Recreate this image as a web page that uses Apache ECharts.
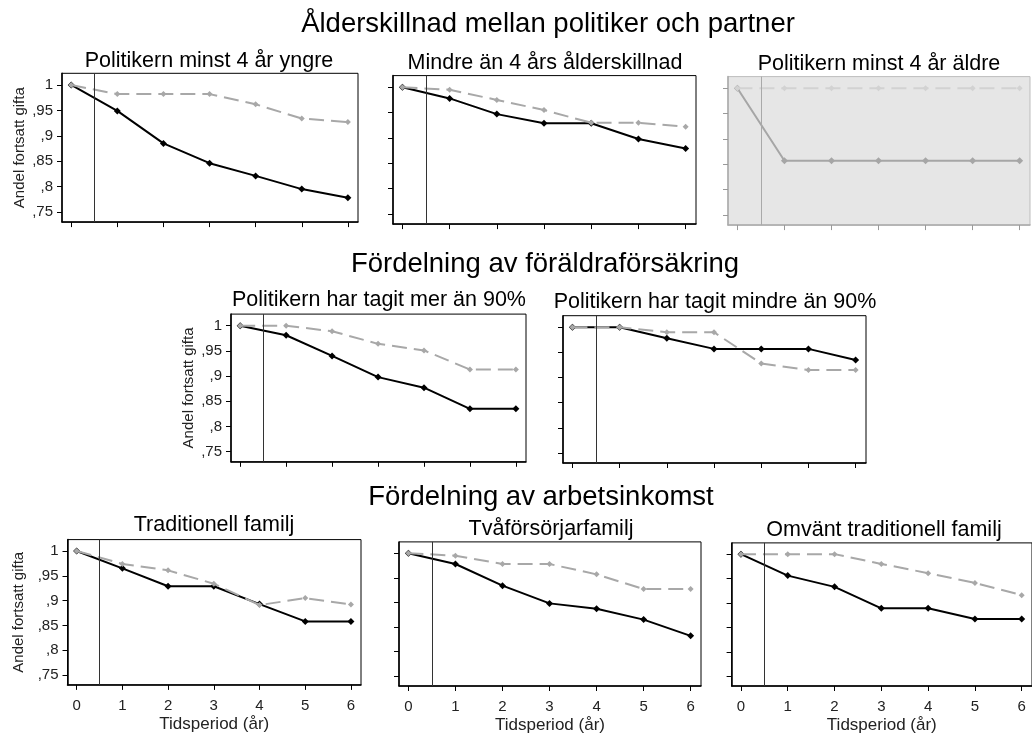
<!DOCTYPE html>
<html>
<head>
<meta charset="utf-8">
<script src="https://cdn.jsdelivr.net/npm/echarts@6/dist/echarts.min.js"></script>
<style>html,body{margin:0;padding:0;background:#fff}#c{width:1032px;height:735px}</style>
</head>
<body>
<div id="c"></div>
<script>
// ---- data ----
const years = [0, 1, 2, 3, 4, 5, 6];
const xTickLabels = ['0', '1', '2', '3', '4', '5', '6'];
const yTickValues = [0.75, 0.8, 0.85, 0.9, 0.95, 1];
const yTickLabels = [',75', ',8', ',85', ',9', ',95', '1'];
const cutoff = 0.5;

const sectionTitles = [
  'Ålderskillnad mellan politiker och partner',
  'Fördelning av föräldraförsäkring',
  'Fördelning av arbetsinkomst'
];
const panelTitles = [
  'Politikern minst 4 år yngre',
  'Mindre än 4 års ålderskillnad',
  'Politikern minst 4 år äldre',
  'Politikern har tagit mer än 90%',
  'Politikern har tagit mindre än 90%',
  'Traditionell familj',
  'Tvåförsörjarfamilj',
  'Omvänt traditionell familj'
];
const yAxisName = 'Andel fortsatt gifta';
const xAxisName = 'Tidsperiod (år)';

// black (solid) and grey (dashed) series per panel
const yngreSolid   = [1.000, 0.949, 0.885, 0.846, 0.821, 0.795, 0.778];
const yngreDashed  = [1.000, 0.982, 0.982, 0.982, 0.962, 0.934, 0.927];
const mindreSolid  = [1.000, 0.978, 0.947, 0.929, 0.929, 0.898, 0.879];
const mindreDashed = [1.000, 0.995, 0.975, 0.955, 0.930, 0.930, 0.922];
const aldreSolid   = [1.000, 0.857, 0.857, 0.857, 0.857, 0.857, 0.857];
const aldreDashed  = [1.000, 1.000, 1.000, 1.000, 1.000, 1.000, 1.000];
const merSolid     = [1.000, 0.981, 0.940, 0.898, 0.877, 0.835, 0.835];
const merDashed    = [1.000, 1.000, 0.989, 0.964, 0.951, 0.913, 0.913];
const mindre90Solid  = [1.000, 1.000, 0.978, 0.957, 0.957, 0.957, 0.935];
const mindre90Dashed = [1.000, 1.000, 0.990, 0.990, 0.928, 0.915, 0.915];
const tradSolid    = [1.000, 0.965, 0.929, 0.929, 0.893, 0.858, 0.858];
const tradDashed   = [1.000, 0.974, 0.961, 0.934, 0.891, 0.905, 0.892];
const tvaSolid     = [1.000, 0.978, 0.934, 0.898, 0.887, 0.865, 0.832];
const tvaDashed    = [1.000, 0.995, 0.978, 0.978, 0.957, 0.927, 0.927];
const omvSolid     = [1.000, 0.956, 0.933, 0.889, 0.889, 0.867, 0.867];
const omvDashed    = [1.000, 1.000, 1.000, 0.980, 0.961, 0.941, 0.916];

const panelSolid  = [yngreSolid, mindreSolid, aldreSolid, merSolid, mindre90Solid, tradSolid, tvaSolid, omvSolid];
const panelDashed = [yngreDashed, mindreDashed, aldreDashed, merDashed, mindre90Dashed, tradDashed, tvaDashed, omvDashed];

// ---- layout ----
const grids = [
  {left: 62,  top: 73.3,  width: 296, height: 148.8},
  {left: 393, top: 75.6,  width: 303, height: 148.5},
  {left: 728, top: 76.6,  width: 302, height: 148.5},
  {left: 231, top: 314.1, width: 295, height: 147.7},
  {left: 563, top: 315.7, width: 303, height: 147.3},
  {left: 67.5,top: 539.6, width: 293.5, height: 145.3},
  {left: 399, top: 541.9, width: 302, height: 144.9},
  {left: 731.6,top: 542.9, width: 303, height: 144.9}
];
const showYLabels = [true, false, false, true, false, true, false, false];
const yNameGap = [35, 0, 0, 35, 0, 41, 0, 0];
const showXLabels = [false, false, false, false, false, true, true, true];
const greyed = [false, false, true, false, false, false, false, false];
const titlePos = [
  [209, 50.5], [545, 52.5], [879, 53.5],
  [379, 289], [715, 291],
  [214, 514.5], [551, 518.5], [884, 519]
];
const sectionPos = [[548, 10], [545, 250], [541, 483]];

const FONT = '"Liberation Sans", Arial, sans-serif';
const fmtY = v => {
  const i = yTickValues.findIndex(t => Math.abs(t - v) < 1e-6);
  return i >= 0 ? yTickLabels[i] : '';
};

const option = {
  backgroundColor: '#fff',
  animation: false,
  textStyle: {fontFamily: FONT},
  title: [
    ...sectionTitles.map((t, i) => ({
      text: t, left: sectionPos[i][0], top: sectionPos[i][1], textAlign: 'center', padding: 0,
      textStyle: {fontFamily: FONT, fontSize: 27.5, fontWeight: 'normal', color: '#000'}
    })),
    ...panelTitles.map((t, i) => ({
      text: t, left: titlePos[i][0], top: titlePos[i][1], textAlign: 'center', padding: 0,
      textStyle: {fontFamily: FONT, fontSize: 21.5, fontWeight: 'normal', color: '#000'}
    }))
  ],
  grid: grids.map((g, i) => ({
    ...g, show: true, containLabel: false,
    borderColor: greyed[i] ? '#bdbdbd' : '#000', borderWidth: 1,
    backgroundColor: greyed[i] ? '#e6e6e6' : '#fff'
  })),
  xAxis: grids.map((g, i) => ({
    type: 'value', gridIndex: i, min: -0.2, max: 6.22,
    name: showXLabels[i] ? xAxisName : '', nameLocation: 'middle', nameGap: 31,
    nameTextStyle: {fontFamily: FONT, fontSize: 17, color: '#222'},
    axisLine: {show: true, onZero: false, lineStyle: {color: greyed[i] ? '#aaa' : '#000', width: 1.5}},
    axisTick: {show: true, length: 5, customValues: years, lineStyle: {color: greyed[i] ? '#999' : '#000', width: 1}},
    axisLabel: {show: showXLabels[i], customValues: years, formatter: v => xTickLabels[years.indexOf(v)] ?? '',
      fontFamily: FONT, fontSize: 15, color: '#222', margin: 13},
    splitLine: {show: false}
  })),
  yAxis: grids.map((g, i) => ({
    type: 'value', gridIndex: i, min: 0.73, max: 1.023,
    name: showYLabels[i] ? yAxisName : '', nameLocation: 'middle', nameGap: yNameGap[i], nameRotate: 90,
    nameTextStyle: {fontFamily: FONT, fontSize: 15, color: '#222'},
    axisLine: {show: true, onZero: false, lineStyle: {color: greyed[i] ? '#aaa' : '#000', width: 1.5}},
    axisTick: {show: true, length: 5, customValues: yTickValues, lineStyle: {color: greyed[i] ? '#999' : '#000', width: 1}},
    axisLabel: {show: showYLabels[i], customValues: yTickValues, formatter: fmtY,
      fontFamily: FONT, fontSize: 15, color: '#222', margin: 9},
    splitLine: {show: false}
  })),
  series: [
    ...panelSolid.map((vals, i) => ({
      type: 'line', xAxisIndex: i, yAxisIndex: i,
      data: years.map((x, k) => [x, vals[k]]),
      symbol: 'diamond', symbolSize: 7, showSymbol: true,
      lineStyle: {color: greyed[i] ? '#a6a6a6' : '#000', width: 2},
      itemStyle: {color: greyed[i] ? '#a6a6a6' : '#000'},
      z: 3,
      markLine: {
        silent: true, symbol: ['none', 'none'], label: {show: false},
        lineStyle: {color: greyed[i] ? '#a9a9a9' : '#333', width: 1, type: 'solid'},
        data: [{xAxis: cutoff}]
      }
    })),
    ...panelDashed.map((vals, i) => ({
      type: 'line', xAxisIndex: i, yAxisIndex: i,
      data: years.map((x, k) => [x, vals[k]]),
      symbol: 'diamond', symbolSize: 6, showSymbol: true,
      lineStyle: {color: greyed[i] ? '#d2d2d2' : '#a8a8a8', width: 2, type: [15, 7]},
      itemStyle: {color: greyed[i] ? '#d2d2d2' : '#a8a8a8'},
      z: 4
    }))
  ]
};

const chart = echarts.init(document.getElementById('c'), null, {renderer: 'canvas'});
chart.setOption(option);
</script>
</body>
</html>
